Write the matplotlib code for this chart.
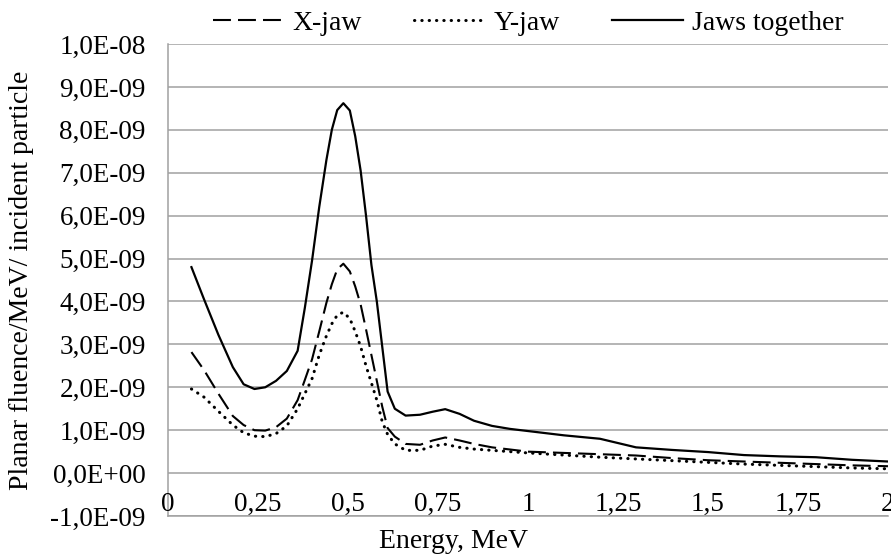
import matplotlib
matplotlib.use('Agg')
import matplotlib.pyplot as plt

plt.rcParams['font.family'] = ['Liberation Serif', 'DejaVu Serif']

# energy, MeV
energy = [0.065, 0.1, 0.14, 0.18, 0.21, 0.24, 0.27, 0.3, 0.33, 0.36, 0.38,
          0.4, 0.42, 0.44, 0.455, 0.47, 0.487, 0.505, 0.52, 0.535, 0.55,
          0.565, 0.58, 0.595, 0.61, 0.63, 0.66, 0.7, 0.735, 0.77, 0.81,
          0.85, 0.9, 0.95, 1.0, 1.1, 1.2, 1.3, 1.4, 1.5, 1.6, 1.7, 1.8,
          1.9, 2.0]

# planar fluence per MeV per incident particle, units of 1E-9
x_jaw = [2.82, 2.4, 1.85, 1.33, 1.12, 1.0, 0.99, 1.07, 1.27, 1.7, 2.17,
         2.65, 3.3, 3.97, 4.4, 4.75, 4.88, 4.7, 4.35, 3.93, 3.35,
         2.75, 2.15, 1.55, 1.05, 0.85, 0.68, 0.66, 0.76, 0.83, 0.76,
         0.68, 0.6, 0.55, 0.5, 0.47, 0.44, 0.41, 0.35, 0.3, 0.27, 0.24, 0.21,
         0.18, 0.16]
y_jaw = [1.96, 1.77, 1.44, 1.12, 0.94, 0.86, 0.85, 0.92, 1.1, 1.5, 1.85,
         2.2, 2.75, 3.2, 3.48, 3.68, 3.75, 3.6, 3.3, 2.95, 2.5,
         2.1, 1.7, 1.2, 0.9, 0.68, 0.53, 0.53, 0.63, 0.67, 0.6,
         0.56, 0.53, 0.5, 0.47, 0.42, 0.37, 0.33, 0.29, 0.25, 0.21, 0.18, 0.15,
         0.12, 0.1]
jaws_together = [4.8, 4.05, 3.22, 2.47, 2.07, 1.96, 2.0, 2.15, 2.38, 2.85, 3.85,
                 4.95, 6.2, 7.3, 8.0, 8.46, 8.62, 8.45, 7.85, 7.05, 6.0,
                 4.85, 4.0, 2.95, 1.9, 1.5, 1.34, 1.36, 1.43, 1.49, 1.38,
                 1.22, 1.1, 1.03, 0.98, 0.88, 0.8, 0.6, 0.54, 0.49, 0.42, 0.39, 0.37,
                 0.31, 0.27]

x_ticks = [0, 0.25, 0.5, 0.75, 1, 1.25, 1.5, 1.75, 2]
x_tick_labels = ['0', '0,25', '0,5', '0,75', '1', '1,25', '1,5', '1,75', '2']
y_ticks = [-1e-9, 0, 1e-9, 2e-9, 3e-9, 4e-9, 5e-9, 6e-9, 7e-9, 8e-9, 9e-9, 1e-8]
y_tick_labels = ['-1,0E-09', '0,0E+00', '1,0E-09', '2,0E-09', '3,0E-09', '4,0E-09',
                 '5,0E-09', '6,0E-09', '7,0E-09', '8,0E-09', '9,0E-09', '1,0E-08']

scale = 1e-9
fig = plt.figure(figsize=(8.91, 5.57), dpi=100)
ax = fig.add_axes([0.1886, 0.0736, 0.808, 0.8474])

ax.plot(energy, [v * scale for v in x_jaw], color='black', lw=1.5,
        dashes=(8.6, 3.4), label='X-jaw')
ax.plot(energy, [v * scale for v in y_jaw], color='black', lw=2.2,
        dashes=(0.1, 2.3), dash_capstyle='round', label='Y-jaw')
ax.plot(energy, [v * scale for v in jaws_together], color='black', lw=1.6,
        label='Jaws together')

ax.set_xlim(0, 2)
ax.set_ylim(-1e-9, 1e-8)
ax.set_yticks(y_ticks)
ax.set_yticklabels(y_tick_labels, fontsize=19.5)
ax.set_xticks(x_ticks)
ax.set_xticklabels([])
ax.tick_params(axis='both', length=0)
ax.tick_params(axis='y', pad=16)
ax.grid(axis='y', color='#a0a0a0', lw=1.1)
ax.set_axisbelow(True)

# x labels sit inside the plot, just above the bottom axis
for xv, lab in zip(x_ticks, x_tick_labels):
    ax.text(xv, -0.74e-9, lab, ha='center', va='center', fontsize=19.5, clip_on=False)

for side in ['top', 'right']:
    ax.spines[side].set_visible(False)
for side in ['left', 'bottom']:
    ax.spines[side].set_color('#a0a0a0')
    ax.spines[side].set_linewidth(1.1)

ax.set_ylabel('Planar fluence/MeV/ incident particle', fontsize=20, va='center')
ax.yaxis.set_label_coords(-0.203, 0.5)
ax.set_xlabel('Energy, MeV', fontsize=20, va='center')
ax.xaxis.set_label_coords(0.397, -0.053)

ax.legend(loc='center', bbox_to_anchor=(0.5, 1.044), ncol=3, frameon=False,
          fontsize=20, handlelength=2.55, handletextpad=0.3, columnspacing=1.9,
          borderpad=0)

fig.savefig('out.png', dpi=100)
